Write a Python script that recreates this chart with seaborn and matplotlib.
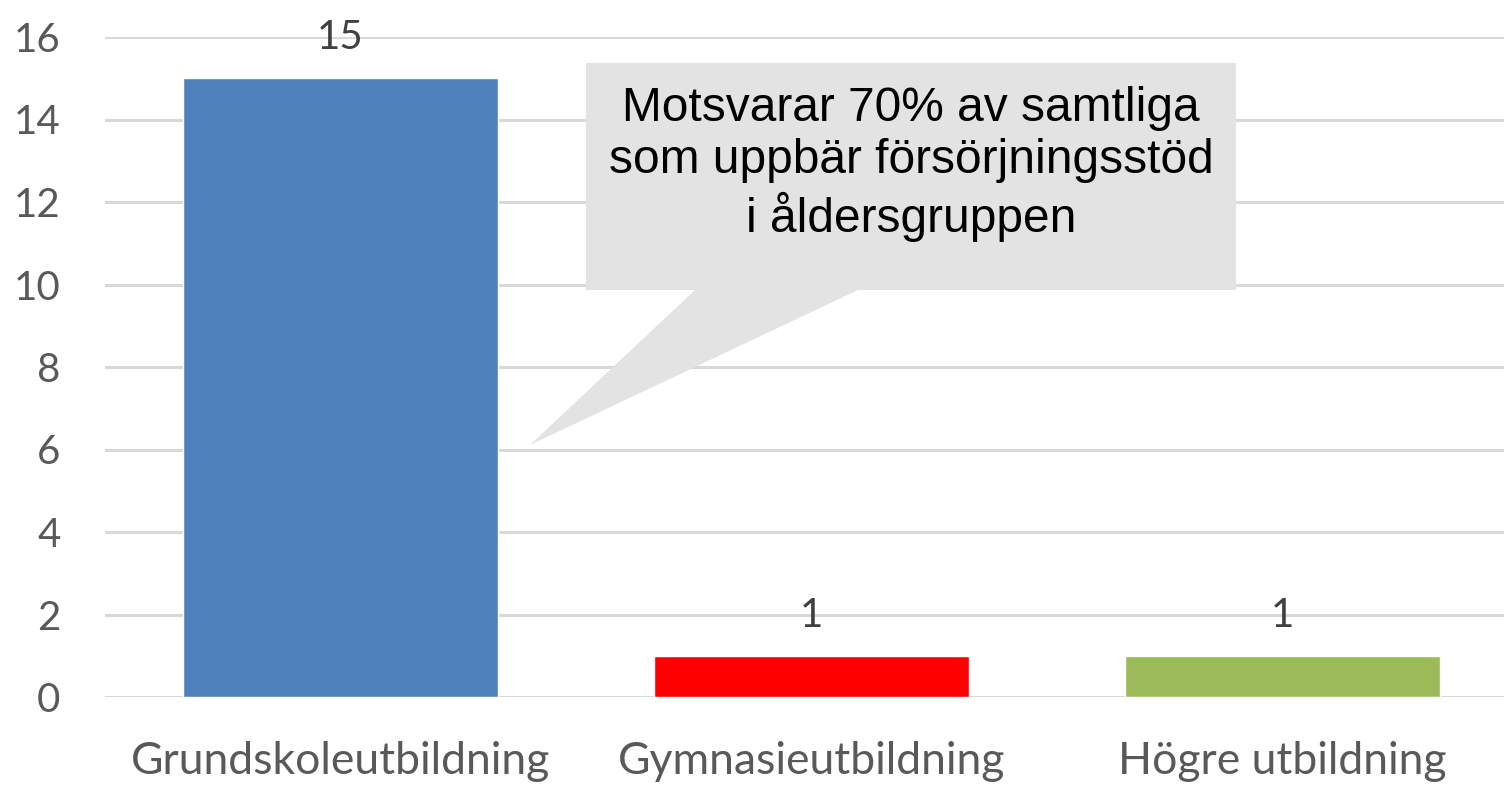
import matplotlib.pyplot as plt
import pandas as pd
import seaborn as sns
from matplotlib.patches import Polygon

CATEGORIES = ["Grundskoleutbildning", "Gymnasieutbildning", "Högre utbildning"]
VALUES = [15, 1, 1]
BAR_COLORS = ["#4F81BD", "#FF0000", "#9BBB59"]
Y_TICKS = [0, 2, 4, 6, 8, 10, 12, 14, 16]
CALLOUT_TEXT = "Motsvarar 70% av samtliga\nsom uppbär försörjningsstöd\ni åldersgruppen"

W, H = 1504, 785


def px(x, y):
    # figure pixel (top-left origin) -> figure fraction
    return x / W, 1 - y / H


def main() -> None:
    sns.set_theme(style="white")
    plt.rcParams["font.family"] = ["Lato", "DejaVu Sans"]

    df = pd.DataFrame({"category": CATEGORIES, "value": VALUES})

    fig = plt.figure(figsize=(W / 100, H / 100), dpi=100)
    left, bottom = px(105, 697)
    _, top = px(0, 37)
    ax = fig.add_axes([left, bottom, 1413 / W, top - bottom])

    sns.barplot(data=df, x="category", y="value", hue="category",
                palette=BAR_COLORS, width=0.67, saturation=1, legend=False, ax=ax, zorder=3)

    ax.set_xlim(-0.5, 2.5)
    ax.set_ylim(0, 16)
    ax.set_yticks(Y_TICKS)
    ax.yaxis.grid(True, color="#d9d9d9", linewidth=2.2, zorder=0)
    ax.set_axisbelow(True)
    for spine in ax.spines.values():
        spine.set_visible(False)
    ax.tick_params(axis="y", labelsize=29, labelcolor="#595959", length=0, pad=32)
    ax.tick_params(axis="x", labelsize=32, labelcolor="#595959", length=0, pad=32)
    ax.set_xlabel("")
    ax.set_ylabel("")

    for container in ax.containers:
        ax.bar_label(container, fontsize=29, color="#404040", padding=16)

    # speech-bubble callout
    bubble = [px(586, 63), px(1236, 63), px(1236, 290), px(858, 290),
              px(530, 445), px(695, 290), px(586, 290)]
    fig.patches.append(Polygon(bubble, closed=True, transform=fig.transFigure,
                               facecolor="#e3e3e3", edgecolor="none", zorder=5))
    tx, ty = px(911, 164)
    fig.text(tx, ty, CALLOUT_TEXT, ha="center", va="center", fontsize=34.5,
             family=["Liberation Sans", "DejaVu Sans"], color="black",
             linespacing=1.2, zorder=6)

    fig.savefig("out.png", dpi=100)
    plt.close(fig)


if __name__ == "__main__":
    main()
